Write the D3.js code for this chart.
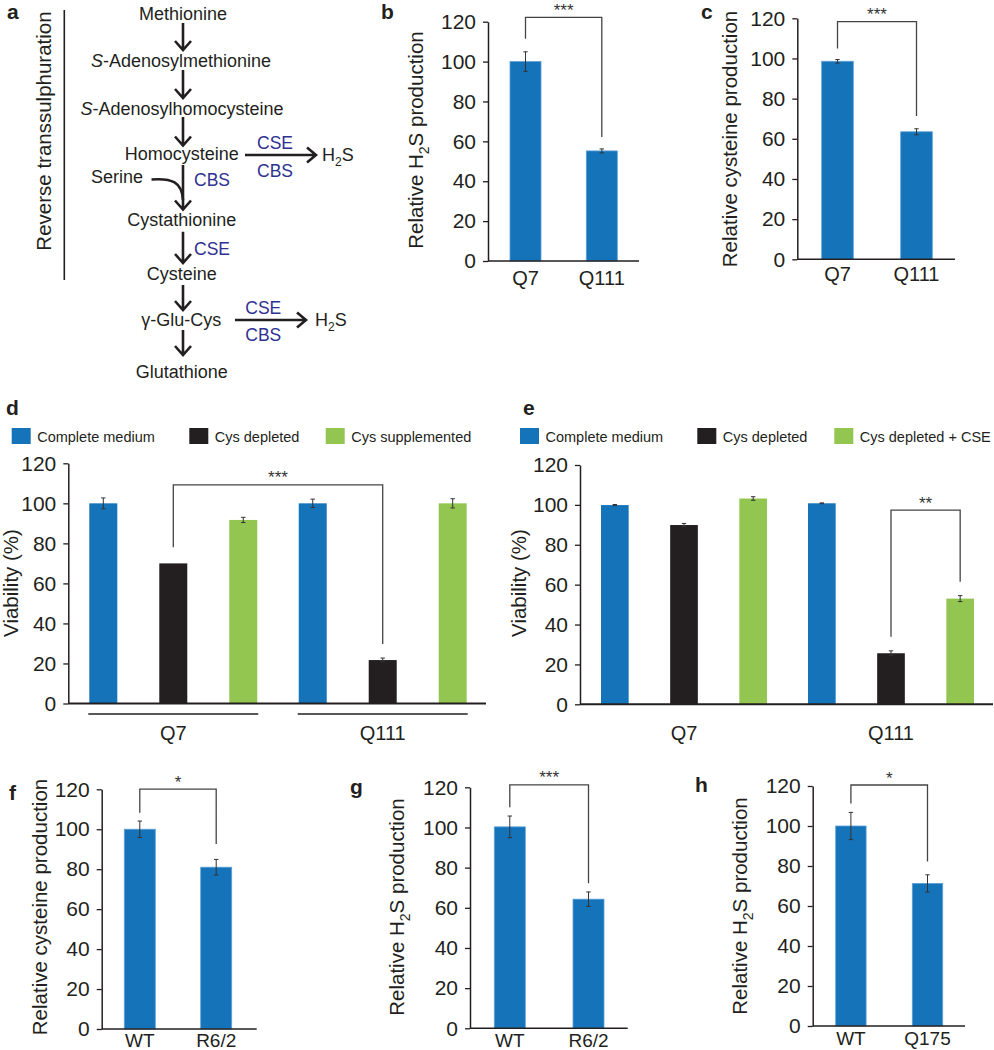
<!DOCTYPE html>
<html><head><meta charset="utf-8">
<script src="https://cdn.jsdelivr.net/npm/d3@7"></script>
<style>
body{margin:0;background:#fff;}
svg{display:block;font-family:"Liberation Sans",Arial,Helvetica,sans-serif;}
</style></head><body>
<svg id="chart" width="994" height="1050"></svg>
<script>
// ---------------- data ----------------
const yTicks = [0, 20, 40, 60, 80, 100, 120];

const bCategories = ["Q7", "Q111"];
const bValues = [100, 55.2];
const bErrors = [4.9, 1.0];

const cCategories = ["Q7", "Q111"];
const cValues = [98.6, 63.5];
const cErrors = [0.9, 1.5];

const fCategories = ["WT", "R6/2"];
const fValues = [100, 81];
const fErrors = [4.1, 3.9];

const gCategories = ["WT", "R6/2"];
const gValues = [100.3, 64.3];
const gErrors = [5.4, 3.6];

const hCategories = ["WT", "Q175"];
const hValues = [100, 71.3];
const hErrors = [6.8, 4.3];

const dGroups = ["Q7", "Q111"];
const dSeries = ["Complete medium", "Cys depleted", "Cys supplemented"];
const dValues = [[100, 70, 91.7], [100, 21.7, 100]];
const dErrors = [[2.7, 0, 1.3], [2.1, 1.0, 2.3]];

const eGroups = ["Q7", "Q111"];
const eSeries = ["Complete medium", "Cys depleted", "Cys depleted + CSE"];
const eValues = [[99.9, 89.9, 103.2], [100.8, 25.6, 53.0]];
const eErrors = [[0.3, 0.8, 0.9], [0.2, 1.2, 1.5]];

const seriesColors = ["#1573ba", "#231f20", "#93c650"];
const INK = "#231f20";

// ---------------- helpers ----------------
const svg = d3.select("#chart");

function letter(t, x, y) {
  svg.append("text").attr("x", x).attr("y", y).text(t)
    .attr("font-weight", "bold").attr("font-size", 21).attr("fill", INK);
}

function yTitle(g, x, y, parts) {
  const t = g.append("text").attr("transform", `translate(${x},${y}) rotate(-90)`)
    .attr("text-anchor", "middle").attr("dy", "0.35em")
    .attr("font-size", 20.5).attr("fill", INK);
  parts.forEach(p => {
    const s = t.append("tspan").text(p.t);
    if (p.sub) s.attr("font-size", 14).attr("dy", "0.45em");
    if (p.after) s.attr("dy", "-0.32em");
  });
}

function styleYAxis(ax) {
  ax.select(".domain").attr("stroke", INK).attr("stroke-width", 1.5);
  ax.selectAll(".tick line").attr("stroke", INK).attr("stroke-width", 1.3);
  ax.selectAll(".tick text").attr("font-size", 21).attr("fill", INK)
    .attr("font-family", "Liberation Sans, Arial, sans-serif");
}

function errorBar(g, cx, yTop, yBot) {
  g.append("line").attr("x1", cx).attr("x2", cx).attr("y1", yTop).attr("y2", yBot)
    .attr("stroke", "#333").attr("stroke-width", 1);
  [yTop, yBot].forEach(yy => g.append("line").attr("x1", cx - 2.2).attr("x2", cx + 2.2)
    .attr("y1", yy).attr("y2", yy).attr("stroke", "#333").attr("stroke-width", 1));
}

function bracket(g, x1, x2, yTop, yL, yR, stars) {
  g.append("path").attr("d", `M${x1},${yL}V${yTop}H${x2}V${yR}`)
    .attr("fill", "none").attr("stroke", "#444").attr("stroke-width", 1.3);
  g.append("text").attr("x", (x1 + x2) / 2).attr("y", yTop - 1.5)
    .attr("text-anchor", "middle").attr("font-size", 17).attr("fill", "#333").text(stars);
}

// simple two-bar panels
function simplePanel(cfg) {
  const g = svg.append("g");
  const y = d3.scaleLinear().domain([0, 120]).range([cfg.y0, cfg.y120]);
  const n = cfg.cats.length, R = cfg.barR - cfg.barL;
  const p = (R - n * cfg.bw) / (R - cfg.bw);
  const x = d3.scaleBand().domain(cfg.cats).range([cfg.barL, cfg.barR]).paddingInner(p).paddingOuter(0);

  g.selectAll("rect.bar").data(cfg.vals).join("rect").attr("class", "bar")
    .attr("x", (d, i) => x(cfg.cats[i])).attr("width", x.bandwidth())
    .attr("y", d => y(d)).attr("height", d => y(0) - y(d))
    .attr("fill", seriesColors[0]).attr("stroke", "#5c9fd8").attr("stroke-width", 0.8);

  cfg.vals.forEach((v, i) => {
    const cx = x(cfg.cats[i]) + x.bandwidth() / 2;
    errorBar(g, cx, y(v + cfg.errs[i]), y(v - cfg.errs[i]));
  });

  const ay = g.append("g").attr("transform", `translate(${cfg.axisX},0)`)
    .call(d3.axisLeft(y).tickValues(yTicks).tickSize(5).tickSizeOuter(0).tickPadding(7));
  styleYAxis(ay);

  g.append("line").attr("x1", cfg.axisX).attr("x2", cfg.xEnd).attr("y1", y(0)).attr("y2", y(0))
    .attr("stroke", INK).attr("stroke-width", 1.5);

  const ax = g.append("g").attr("transform", `translate(0,${y(0)})`)
    .call(d3.axisBottom(x).tickSize(0).tickPadding(cfg.xPad));
  ax.select(".domain").remove();
  ax.selectAll(".tick text").attr("font-size", cfg.xFont).attr("fill", INK)
    .attr("font-family", "Liberation Sans, Arial, sans-serif");

  const s = cfg.sig;
  const c0 = x(cfg.cats[0]) + x.bandwidth() / 2, c1 = x(cfg.cats[1]) + x.bandwidth() / 2;
  bracket(g, c0, c1, y(s.top), y(s.left), y(s.right), s.stars);

  yTitle(g, cfg.titleX, cfg.titleY, cfg.title);
}

// grouped panels (d, e)
function groupedPanel(cfg) {
  const g = svg.append("g");
  const y = d3.scaleLinear().domain([0, 120]).range([cfg.y0, cfg.y120]);
  const outer = d3.scaleBand().domain(cfg.groups).range([cfg.barL, cfg.barR]).paddingInner(0.198).paddingOuter(0);
  const inner = d3.scaleBand().domain(cfg.series).range([0, outer.bandwidth()]).paddingInner(0.6).paddingOuter(0);

  const flat = [];
  cfg.groups.forEach((gr, gi) => cfg.series.forEach((se, si) =>
    flat.push({ gr, se, si, v: cfg.vals[gi][si], e: cfg.errs[gi][si] })));

  g.selectAll("rect.bar").data(flat).join("rect").attr("class", "bar")
    .attr("x", d => outer(d.gr) + inner(d.se)).attr("width", inner.bandwidth())
    .attr("y", d => y(d.v)).attr("height", d => y(0) - y(d.v))
    .attr("fill", d => seriesColors[d.si]);

  flat.forEach(d => {
    if (d.e > 0) {
      const cx = outer(d.gr) + inner(d.se) + inner.bandwidth() / 2;
      errorBar(g, cx, y(d.v + d.e), y(d.v - d.e));
    }
  });

  const ay = g.append("g").attr("transform", `translate(${cfg.axisX},0)`)
    .call(d3.axisLeft(y).tickValues(yTicks).tickSize(5).tickSizeOuter(0).tickPadding(7));
  styleYAxis(ay);

  g.append("line").attr("x1", cfg.axisX).attr("x2", cfg.xEnd).attr("y1", y(0)).attr("y2", y(0))
    .attr("stroke", INK).attr("stroke-width", 2);

  if (cfg.underline) {
    cfg.groups.forEach(gr => g.append("line")
      .attr("x1", outer(gr) - 1).attr("x2", outer(gr) + outer.bandwidth() + 1)
      .attr("y1", y(0) + 10.5).attr("y2", y(0) + 10.5)
      .attr("stroke", INK).attr("stroke-width", 1.3));
  }
  const ax = g.append("g").attr("transform", `translate(0,${y(0)})`)
    .call(d3.axisBottom(outer).tickSize(0).tickPadding(22));
  ax.select(".domain").remove();
  ax.selectAll(".tick text").attr("font-size", 20).attr("fill", INK)
    .attr("font-family", "Liberation Sans, Arial, sans-serif");

  // legend
  cfg.series.forEach((se, i) => {
    g.append("rect").attr("x", cfg.legendX[i]).attr("y", 428).attr("width", 19).attr("height", 16)
      .attr("fill", seriesColors[i]);
    g.append("text").attr("x", cfg.legendX[i] + 25.5).attr("y", 442).attr("font-size", 14.5)
      .attr("fill", INK).text(se);
  });

  const s = cfg.sig;
  const cxOf = (gr, se) => outer(gr) + inner(se) + inner.bandwidth() / 2;
  bracket(g, cxOf(s.a[0], s.a[1]), cxOf(s.b[0], s.b[1]), y(s.top), y(s.left), y(s.right), s.stars);

  yTitle(g, cfg.titleX, cfg.titleY, [{ t: "Viability (%)" }]);
}

// ---------------- panel a: pathway ----------------
(function () {
  const g = svg.append("g");
  const nodes = [
    { t: "Methionine", x: 183, y: 14 },
    { it: "S", t: "-Adenosylmethionine", x: 181, y: 61 },
    { it: "S", t: "-Adenosylhomocysteine", x: 182, y: 109 },
    { t: "Homocysteine", x: 181.7, y: 154 },
    { t: "Serine", x: 117, y: 176.7 },
    { t: "Cystathionine", x: 181.8, y: 220 },
    { t: "Cysteine", x: 181.8, y: 274 },
    { t: "γ-Glu-Cys", x: 181.2, y: 320 },
    { t: "Glutathione", x: 181.7, y: 371.7 }
  ];
  nodes.forEach(n => {
    const t = g.append("text").attr("x", n.x).attr("y", n.y).attr("dy", "0.36em")
      .attr("text-anchor", "middle").attr("font-size", 18).attr("fill", INK);
    if (n.it) t.append("tspan").attr("font-style", "italic").text(n.it);
    t.append("tspan").text(n.t);
  });
  const enzymes = [
    { t: "CSE", x: 275, y: 143 }, { t: "CBS", x: 275, y: 170.5 },
    { t: "CBS", x: 212, y: 180 }, { t: "CSE", x: 212, y: 248.3 },
    { t: "CSE", x: 263.3, y: 308 }, { t: "CBS", x: 263.3, y: 335 }
  ];
  enzymes.forEach(n => g.append("text").attr("x", n.x).attr("y", n.y).attr("dy", "0.36em")
    .attr("text-anchor", "middle").attr("font-size", 17.5).attr("fill", "#2e3192").text(n.t));

  const h2s = [{ x: 322, y: 155 }, { x: 315, y: 320 }];
  h2s.forEach(p => {
    const t = g.append("text").attr("x", p.x).attr("y", p.y).attr("dy", "0.36em")
      .attr("font-size", 18).attr("fill", INK);
    t.append("tspan").text("H");
    t.append("tspan").attr("font-size", 12).attr("dy", "0.35em").text("2");
    t.append("tspan").attr("dy", "-0.25em").text("S");
  });

  const st = { stroke: INK, "stroke-width": 2.6, fill: "none" };
  function path(d) { const p = g.append("path").attr("d", d); Object.entries(st).forEach(([k, v]) => p.attr(k, v)); }
  const downs = [[23, 50], [70, 98], [117, 145.5], [165, 209.5], [231.7, 263], [285, 310], [330, 355]];
  downs.forEach(([a, b]) => path(`M183,${a}V${b - 1}M175,${b - 9}L183,${b}L191,${b - 9}`));
  const rights = [[245, 316, 155], [235, 306, 320]];
  rights.forEach(([a, b, yy]) => path(`M${a},${yy}H${b - 1}M${b - 9},${yy - 7.5}L${b},${yy}L${b - 9},${yy + 7.5}`));
  path("M151.5,179.5C172,178 182,182 183,200");

  g.append("line").attr("x1", 64.3).attr("x2", 64.3).attr("y1", 10).attr("y2", 280)
    .attr("stroke", INK).attr("stroke-width", 1.6);
  g.append("text").attr("transform", "translate(43.5,131) rotate(-90)").attr("text-anchor", "middle")
    .attr("dy", "0.36em").attr("font-size", 20.5).attr("fill", INK).text("Reverse transsulphuration");
})();

// ---------------- bar panels ----------------
const h2sTitle = [{ t: "Relative H" }, { t: "2", sub: true }, { t: "S production", after: true }];
simplePanel({
  cats: bCategories, vals: bValues, errs: bErrors,
  axisX: 488, xEnd: 639, y0: 261, y120: 21.7, barL: 510, barR: 617.3, bw: 31, xFont: 20, xPad: 10,
  sig: { top: 122.2, left: 111.4, right: 62.2, stars: "***" },
  titleX: 416, titleY: 140, title: h2sTitle
});
simplePanel({
  cats: cCategories, vals: cValues, errs: cErrors,
  axisX: 797.3, xEnd: 955, y0: 259.3, y120: 18.3, barL: 821.7, barR: 932.3, bw: 31.6, xFont: 20, xPad: 8,
  sig: { top: 118.3, left: 105, right: 71.4, stars: "***" },
  titleX: 730, titleY: 139, title: [{ t: "Relative cysteine production" }]
});
simplePanel({
  cats: fCategories, vals: fValues, errs: fErrors,
  axisX: 101.7, xEnd: 256.7, y0: 1029, y120: 789.3, barL: 124.3, barR: 231.7, bw: 31, xFont: 19, xPad: 5,
  sig: { top: 120.1, left: 108.3, right: 92.6, stars: "*" },
  titleX: 40, titleY: 907, title: [{ t: "Relative cysteine production" }]
});
simplePanel({
  cats: gCategories, vals: gValues, errs: gErrors,
  axisX: 470, xEnd: 627.7, y0: 1028.3, y120: 787.3, barL: 494.3, barR: 604, bw: 31, xFont: 19, xPad: 5,
  sig: { top: 121.2, left: 110.1, right: 72.2, stars: "***" },
  titleX: 397, titleY: 907, title: h2sTitle
});
simplePanel({
  cats: hCategories, vals: hValues, errs: hErrors,
  axisX: 812.7, xEnd: 965, y0: 1026, y120: 786, barL: 835.7, barR: 942.7, bw: 30.4, xFont: 19, xPad: 6,
  sig: { top: 120.5, left: 111.3, right: 82.2, stars: "*" },
  titleX: 740, titleY: 906, title: h2sTitle
});

groupedPanel({
  groups: dGroups, series: dSeries, vals: dValues, errs: dErrors,
  axisX: 68.3, xEnd: 486, y0: 703.5, y120: 463.3, barL: 89.3, barR: 466.7,
  underline: true, legendX: [11.7, 189.3, 325.7],
  sig: { a: ["Q7", "Cys depleted"], b: ["Q111", "Cys depleted"], top: 109.2, left: 78, right: 29.7, stars: "***" },
  titleX: 11, titleY: 583
});
groupedPanel({
  groups: eGroups, series: eSeries, vals: eValues, errs: eErrors,
  axisX: 580, xEnd: 993, y0: 704.3, y120: 465, barL: 601, barR: 974,
  underline: false, legendX: [520, 697.3, 834.3],
  sig: { a: ["Q111", "Cys depleted"], b: ["Q111", "Cys depleted + CSE"], top: 97.4, left: 33.9, right: 61.5, stars: "**" },
  titleX: 519, titleY: 583
});

// panel letters
letter("a", 7, 19);
letter("b", 381, 19);
letter("c", 701, 19);
letter("d", 6, 415);
letter("e", 523, 415);
letter("f", 9, 800);
letter("g", 350, 794);
letter("h", 695, 792);
</script>
</body></html>
